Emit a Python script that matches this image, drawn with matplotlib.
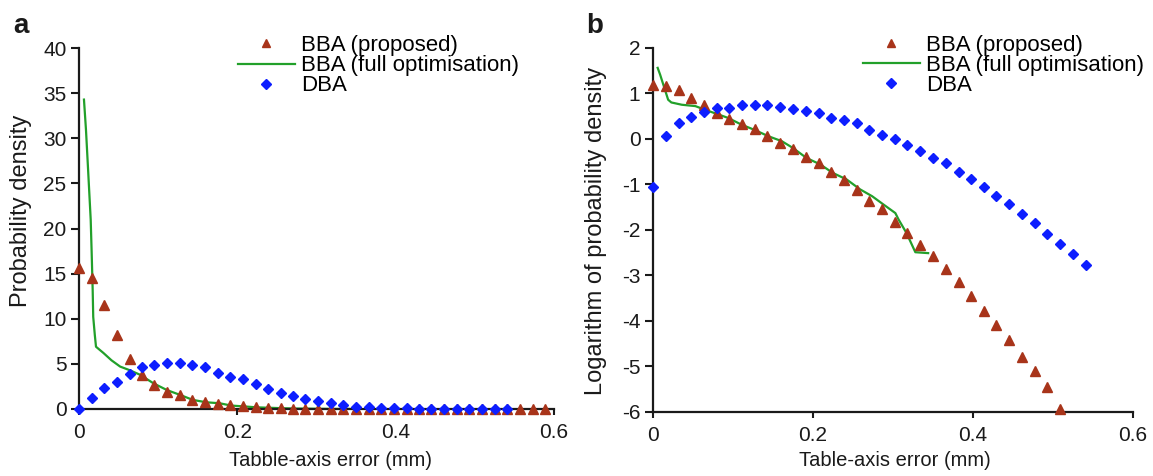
import matplotlib
matplotlib.use('Agg')
import matplotlib.pyplot as plt

plt.rcParams['font.family'] = ['Liberation Sans', 'DejaVu Sans']

# bin positions (mm), shared by the marker series
x_bins = [0.0, 0.016, 0.032, 0.048, 0.064, 0.080, 0.095, 0.111, 0.127, 0.143,
          0.159, 0.175, 0.191, 0.207, 0.223, 0.239, 0.255, 0.270, 0.286, 0.302,
          0.318, 0.334, 0.350, 0.366, 0.382, 0.398, 0.414, 0.429, 0.445, 0.461,
          0.477, 0.493, 0.509, 0.525, 0.541, 0.557, 0.573, 0.589]

# panel a: probability density
bba_prop_a = [15.6, 14.5, 11.5, 8.2, 5.5, 3.8, 2.7, 1.9, 1.5, 1.0,
              0.8, 0.6, 0.4, 0.3, 0.18, 0.12, 0.07, 0.04, 0.03, 0.02,
              0.01, 0.0, 0.0, 0.0, 0.0, 0.0, 0.0, 0.0, 0.0, 0.0,
              0.0, 0.0, 0.0, 0.0, 0.0, 0.0, 0.0, 0.0]
dba_a = [0.0, 1.18, 2.29, 2.95, 3.87, 4.6, 4.87, 5.05, 5.05, 4.87,
         4.6, 4.0, 3.6, 3.3, 2.77, 2.18, 1.73, 1.48, 1.1, 0.89,
         0.63, 0.44, 0.26, 0.18, 0.15, 0.1, 0.07, 0.05, 0.03, 0.02,
         0.01, 0.01, 0.0, 0.0, 0.0]
full_x_a = [0.0063, 0.0088, 0.0114, 0.0148, 0.016, 0.0173, 0.018, 0.020, 0.0215, 0.031,
            0.041, 0.052, 0.064, 0.077, 0.094, 0.111, 0.128, 0.144, 0.161, 0.178,
            0.192, 0.209, 0.225, 0.242, 0.259, 0.274, 0.288, 0.303, 0.317, 0.328, 0.344]
full_a = [34.3, 31.0, 26.7, 21.0, 17.4, 13.2, 10.2, 8.2, 6.9, 6.2,
          5.4, 4.7, 4.3, 3.8, 2.85, 2.1, 1.55, 1.0, 0.74, 0.63,
          0.38, 0.28, 0.18, 0.13, 0.08, 0.05, 0.04, 0.02, 0.01, 0.003, 0.003]

# panel b: log10 of probability density
bba_prop_b = [1.19, 1.16, 1.08, 0.90, 0.75, 0.56, 0.44, 0.33, 0.21, 0.07,
              -0.09, -0.23, -0.40, -0.54, -0.73, -0.91, -1.13, -1.37, -1.55, -1.83,
              -2.07, -2.33, -2.57, -2.86, -3.15, -3.46, -3.79, -4.10, -4.42, -4.79,
              -5.11, -5.46, -5.93]
dba_b = [-1.06, 0.07, 0.35, 0.49, 0.58, 0.68, 0.68, 0.75, 0.75, 0.74,
         0.70, 0.65, 0.61, 0.56, 0.46, 0.41, 0.34, 0.19, 0.095, 0.0,
         -0.14, -0.27, -0.41, -0.54, -0.73, -0.88, -1.06, -1.25, -1.43, -1.66,
         -1.85, -2.08, -2.31, -2.53, -2.76]
full_x_b = [0.0059, 0.009, 0.013, 0.017, 0.019, 0.023, 0.036, 0.053, 0.065, 0.078,
            0.094, 0.111, 0.128, 0.144, 0.161, 0.175, 0.192, 0.209, 0.225, 0.242,
            0.259, 0.274, 0.288, 0.303, 0.307, 0.317, 0.328, 0.344]
full_b = [1.56, 1.41, 1.19, 0.97, 0.86, 0.80, 0.75, 0.72, 0.64, 0.56,
          0.46, 0.31, 0.19, 0.06, -0.05, -0.2, -0.42, -0.56, -0.75, -0.89,
          -1.11, -1.26, -1.44, -1.63, -1.77, -2.07, -2.49, -2.51]

labels = ['BBA (proposed)', 'BBA (full optimisation)', 'DBA']
red = '#a8341a'
green = '#22a02a'
blue = '#0d1eff'
ink = '#1a1a1a'

fig = plt.figure(figsize=(11.53, 4.76), dpi=100)
ax_a = fig.add_axes([0.0685, 0.1408, 0.412, 0.758])
ax_b = fig.add_axes([0.5663, 0.1345, 0.4163, 0.765])


def style(ax, xlabel, ylabel, ylim, yticks):
    ax.set_xlim(0, 0.6)
    ax.set_ylim(*ylim)
    ax.set_xticks([0, 0.2, 0.4, 0.6])
    ax.set_xticklabels(['0', '0.2', '0.4', '0.6'])
    ax.set_yticks(yticks)
    ax.set_yticklabels([str(t) for t in yticks])
    for s in ['top', 'right']:
        ax.spines[s].set_visible(False)
    for s in ['left', 'bottom']:
        ax.spines[s].set_linewidth(1.6)
        ax.spines[s].set_color(ink)
    ax.tick_params(axis='y', length=6, width=1.5, color=ink, labelsize=15,
                   labelcolor=ink, pad=3)
    ax.tick_params(axis='x', length=4, width=1.5, color=ink, labelsize=15,
                   labelcolor=ink, pad=6)
    ax.set_xlabel(xlabel, fontsize=14.5, color=ink)
    ax.set_ylabel(ylabel, fontsize=17, color=ink)


def draw(ax, prop, full_x, full, dba, anchor):
    ax.plot(x_bins[:len(prop)], prop, ls='none', marker='^', ms=7.5,
            color=red, clip_on=False, zorder=3, label=labels[0])
    ax.plot(full_x, full, color=green, lw=1.6, zorder=2, label=labels[1])
    ax.plot(x_bins[:len(dba)], dba, ls='none', marker='D', ms=5.5,
            color=blue, clip_on=False, zorder=4, label=labels[2])
    ax.legend(loc='upper left', bbox_to_anchor=anchor, frameon=False,
              fontsize=16, borderpad=0, borderaxespad=0, labelspacing=-0.04,
              handlelength=2.55, handletextpad=0.3, handleheight=0.7,
              markerscale=0.85)


draw(ax_a, bba_prop_a, full_x_a, full_a, dba_a, (0.335, 1.036))
style(ax_a, 'Tabble-axis error (mm)', 'Probability density', (0, 40), list(range(0, 41, 5)))
ax_a.xaxis.set_label_coords(0.53, -0.116)
ax_a.yaxis.set_label_coords(-0.098, 0.55)

draw(ax_b, bba_prop_b, full_x_b, full_b, dba_b, (0.4375, 1.036))
style(ax_b, 'Table-axis error (mm)', 'Logarithm of probability density', (-6, 2), list(range(-6, 3)))
ax_b.xaxis.set_label_coords(0.504, -0.107)
ax_b.yaxis.set_label_coords(-0.095, 0.497)

fig.text(13 / 1153, 1 - 33 / 476, 'a', fontsize=20, fontweight='bold', color=ink)
fig.text(586 / 1153, 1 - 33 / 476, 'b', fontsize=20, fontweight='bold', color=ink)

fig.savefig('out.png', dpi=100)
